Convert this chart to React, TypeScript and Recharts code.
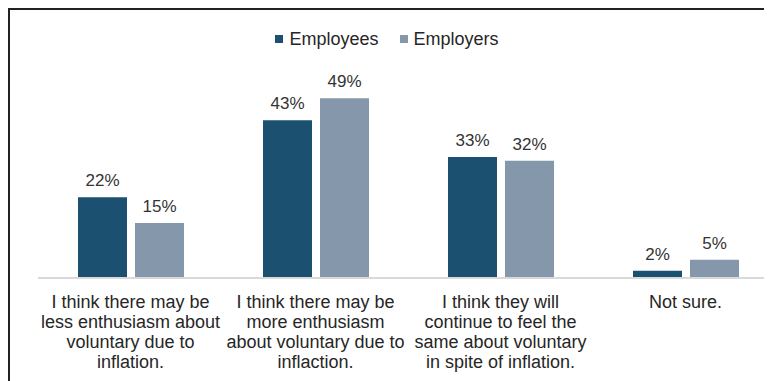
import { BarChart, Bar, XAxis, YAxis, Legend } from 'recharts';

const categoryLines = [
  ['I think there may be', 'less enthusiasm about', 'voluntary due to', 'inflation.'],
  ['I think there may be', 'more enthusiasm', 'about voluntary due to', 'inflaction.'],
  ['I think they will', 'continue to feel the', 'same about voluntary', 'in spite of inflation.'],
  ['Not sure.'],
];
const employees = [22, 43, 33, 2];
const employers = [15, 49, 32, 5];

const SERIES = [
  { key: 'employees', name: 'Employees', color: '#1b5071' },
  { key: 'employers', name: 'Employers', color: '#8597aa' },
];

const FONT = 'Arial, "Liberation Sans", sans-serif';

const data = categoryLines.map((lines, i) => ({
  cat: String(i),
  employees: employees[i],
  employers: employers[i],
}));

const CategoryTick = (props: any) => {
  const { x, y, payload } = props;
  const lines = categoryLines[Number(payload.value)] || [];
  return (
    <text x={x} y={y + 30} textAnchor="middle" fill="#262626" fontSize={18} fontFamily={FONT}>
      {lines.map((line, i) => (
        <tspan key={i} x={x} dy={i === 0 ? 0 : 20}>
          {line}
        </tspan>
      ))}
    </text>
  );
};

const LegendContent = () => (
  <div
    style={{
      display: 'flex',
      justifyContent: 'center',
      alignItems: 'center',
      fontFamily: FONT,
      fontSize: 18,
      lineHeight: '20px',
      height: 20,
      color: '#262626',
    }}
  >
    {SERIES.map((s, i) => (
      <div key={s.key} style={{ display: 'flex', alignItems: 'center', marginLeft: i === 0 ? 0 : 21 }}>
        <span style={{ width: 8, height: 8, background: s.color, marginRight: 6, display: 'inline-block' }} />
        <span>{s.name}</span>
      </div>
    ))}
  </div>
);

export default function App() {
  return (
    <div
      style={{
        width: 764,
        height: 373,
        overflow: 'hidden',
        borderTop: '2px solid #222',
        borderLeft: '2px solid #222',
        boxSizing: 'border-box',
        background: '#fff',
      }}
    >
      <BarChart
        width={780}
        height={371}
        data={data}
        margin={{ top: 28, right: 12, bottom: 8, left: 28 }}
        barSize={49}
        barGap={8}
      >
        <XAxis
          dataKey="cat"
          axisLine={{ stroke: '#d9d9d9', strokeWidth: 2 }}
          tickLine={false}
          tickSize={0}
          tickMargin={0}
          height={95}
          interval={0}
          tick={<CategoryTick />}
        />
        <YAxis hide domain={[0, 60]} />
        <Legend
          verticalAlign="top"
          content={<LegendContent />}
          wrapperStyle={{ position: 'absolute', top: 19, left: 0, width: 754 }}
        />
        {SERIES.map((s) => (
          <Bar
            key={s.key}
            dataKey={s.key}
            name={s.name}
            fill={s.color}
            isAnimationActive={false}
            label={{
              position: 'top',
              offset: 11,
              fill: '#333',
              fontSize: 17,
              fontFamily: FONT,
              formatter: (v: any) => `${v}%`,
            }}
          />
        ))}
      </BarChart>
    </div>
  );
}
